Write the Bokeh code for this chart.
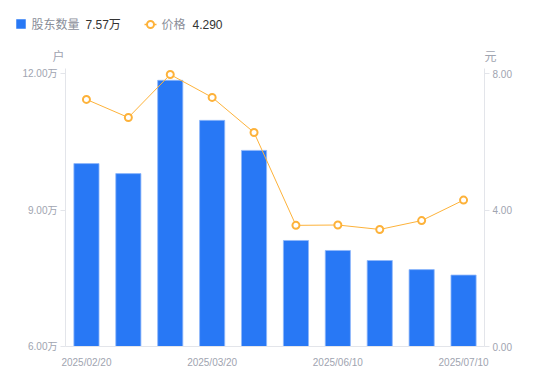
from bokeh.plotting import figure
from bokeh.models import Range1d, LinearAxis, FixedTicker, ColumnDataSource
from bokeh.layouts import column
from bokeh.embed import file_html
from bokeh.resources import INLINE
from bokeh.core.properties import value

dates = ["2025/02/20", "2025/02/28", "2025/03/10", "2025/03/20", "2025/03/31",
         "2025/04/30", "2025/06/10", "2025/06/20", "2025/06/30", "2025/07/10"]
holders = [10.02, 9.80, 11.85, 10.97, 10.31, 8.33, 8.11, 7.89, 7.69, 7.57]  # 万户
price = [7.24, 6.71, 7.97, 7.30, 6.27, 3.55, 3.56, 3.43, 3.69, 4.29]
shown_ticks = [0, 3, 6, 9]
left_ticks = [6, 9, 12]
right_ticks = [0, 4, 8]

FONT = "Liberation Sans, Noto Sans CJK SC"
BLUE = "#2878F5"
ORANGE = "#FDB23A"
GRAY = "#a0a4b0"
AXIS = "#e3e5ea"
W = 542

idx = list(range(len(dates)))
src = ColumnDataSource(dict(x=idx, holders=holders, price=price))

# ---------- legend strip + axis unit titles ----------
LH = 66
lg = figure(width=W, height=LH, output_backend="svg", toolbar_location=None,
            x_range=Range1d(0, W), y_range=Range1d(LH, 0), min_border=0)
if "frame_align" in lg.properties():
    lg.frame_align = False
lg.axis.visible = False
lg.grid.visible = False
lg.outline_line_color = None
LY = 24
lg.rect(x=[20.5], y=[LY - 0.5], width=9, height=9, fill_color=BLUE, line_color=BLUE, line_width=0.5)
lg.text(x=[31], y=[LY], text=["股东数量"], text_font=value(FONT), text_font_size="12px",
        text_color="#8a8e99", text_baseline="middle")
lg.text(x=[85], y=[LY], text=["%.2f万" % holders[-1]], text_font=value(FONT), text_font_size="12px",
        text_color="#333333", text_baseline="middle")
lg.line(x=[144, 156], y=[LY, LY], line_color=ORANGE, line_width=1.5)
lg.scatter(x=[150], y=[LY], size=7, marker="circle", fill_color="white", line_color=ORANGE, line_width=2)
lg.text(x=[161], y=[LY], text=["价格"], text_font=value(FONT), text_font_size="12px",
        text_color="#8a8e99", text_baseline="middle")
lg.text(x=[192], y=[LY], text=["%.3f" % price[-1]], text_font=value(FONT), text_font_size="12px",
        text_color="#333333", text_baseline="middle")
lg.text(x=[58, 490], y=[56, 56], text=["户", "元"], text_font=value(FONT), text_font_size="12px",
        text_color=GRAY, text_baseline="middle", text_align="center")

# ---------- main chart ----------
# frame extends 5px above the top ticks so the top marker is not clipped
pad_l = 5 / 45.5
pad_r = 5 / 34.125
p = figure(width=W, height=(346 - LH) + 25, output_backend="svg", toolbar_location=None,
           x_range=Range1d(-0.5, len(dates) - 0.5), y_range=Range1d(6, 12 + pad_l),
           min_border_left=65, min_border_right=W - 484, min_border_top=73 - 5 - LH,
           min_border_bottom=25)
if "frame_align" in p.properties():
    p.frame_align = False
p.grid.visible = False
p.outline_line_color = None
p.extra_y_ranges = {"price": Range1d(0, 8 + pad_r)}

p.vbar(x="x", top="holders", bottom=0, width=0.6, source=src,
       fill_color=BLUE, line_color="#8fb8fa", line_width=0.8)
p.line(x="x", y="price", source=src, y_range_name="price", line_color=ORANGE, line_width=1)
p.scatter(x="x", y="price", source=src, y_range_name="price", size=7, marker="circle",
          fill_color="white", line_color=ORANGE, line_width=2)

# x axis
xa = p.xaxis[0]
xa.ticker = FixedTicker(ticks=shown_ticks)
xa.major_label_overrides = {i: dates[i] for i in shown_ticks}
xa.major_tick_line_color = None
xa.minor_tick_line_color = None
xa.axis_line_color = AXIS
xa.major_label_text_color = GRAY
xa.major_label_text_font = FONT
xa.major_label_text_font_size = "10px"
xa.major_label_standoff = 4

# left axis
ya = p.yaxis[0]
ya.ticker = FixedTicker(ticks=left_ticks)
ya.major_label_overrides = {t: "%.2f万" % t for t in left_ticks}
ya.axis_line_color = AXIS
ya.major_tick_line_color = AXIS
ya.major_tick_out = 5
ya.major_tick_in = 0
ya.minor_tick_line_color = None
ya.major_label_text_color = GRAY
ya.major_label_text_font = FONT
ya.major_label_text_font_size = "10px"
ya.major_label_standoff = 3

# right axis
ra = LinearAxis(y_range_name="price", ticker=FixedTicker(ticks=right_ticks))
ra.major_label_overrides = {t: "%.2f" % t for t in right_ticks}
ra.axis_line_color = AXIS
ra.major_tick_line_color = AXIS
ra.major_tick_out = 5
ra.major_tick_in = 0
ra.minor_tick_line_color = None
ra.major_label_text_color = GRAY
ra.major_label_text_font = FONT
ra.major_label_text_font_size = "10px"
ra.major_label_standoff = 3
p.add_layout(ra, "right")

layout = column(lg, p, spacing=0)
open("out.html", "w").write(file_html(layout, INLINE))
